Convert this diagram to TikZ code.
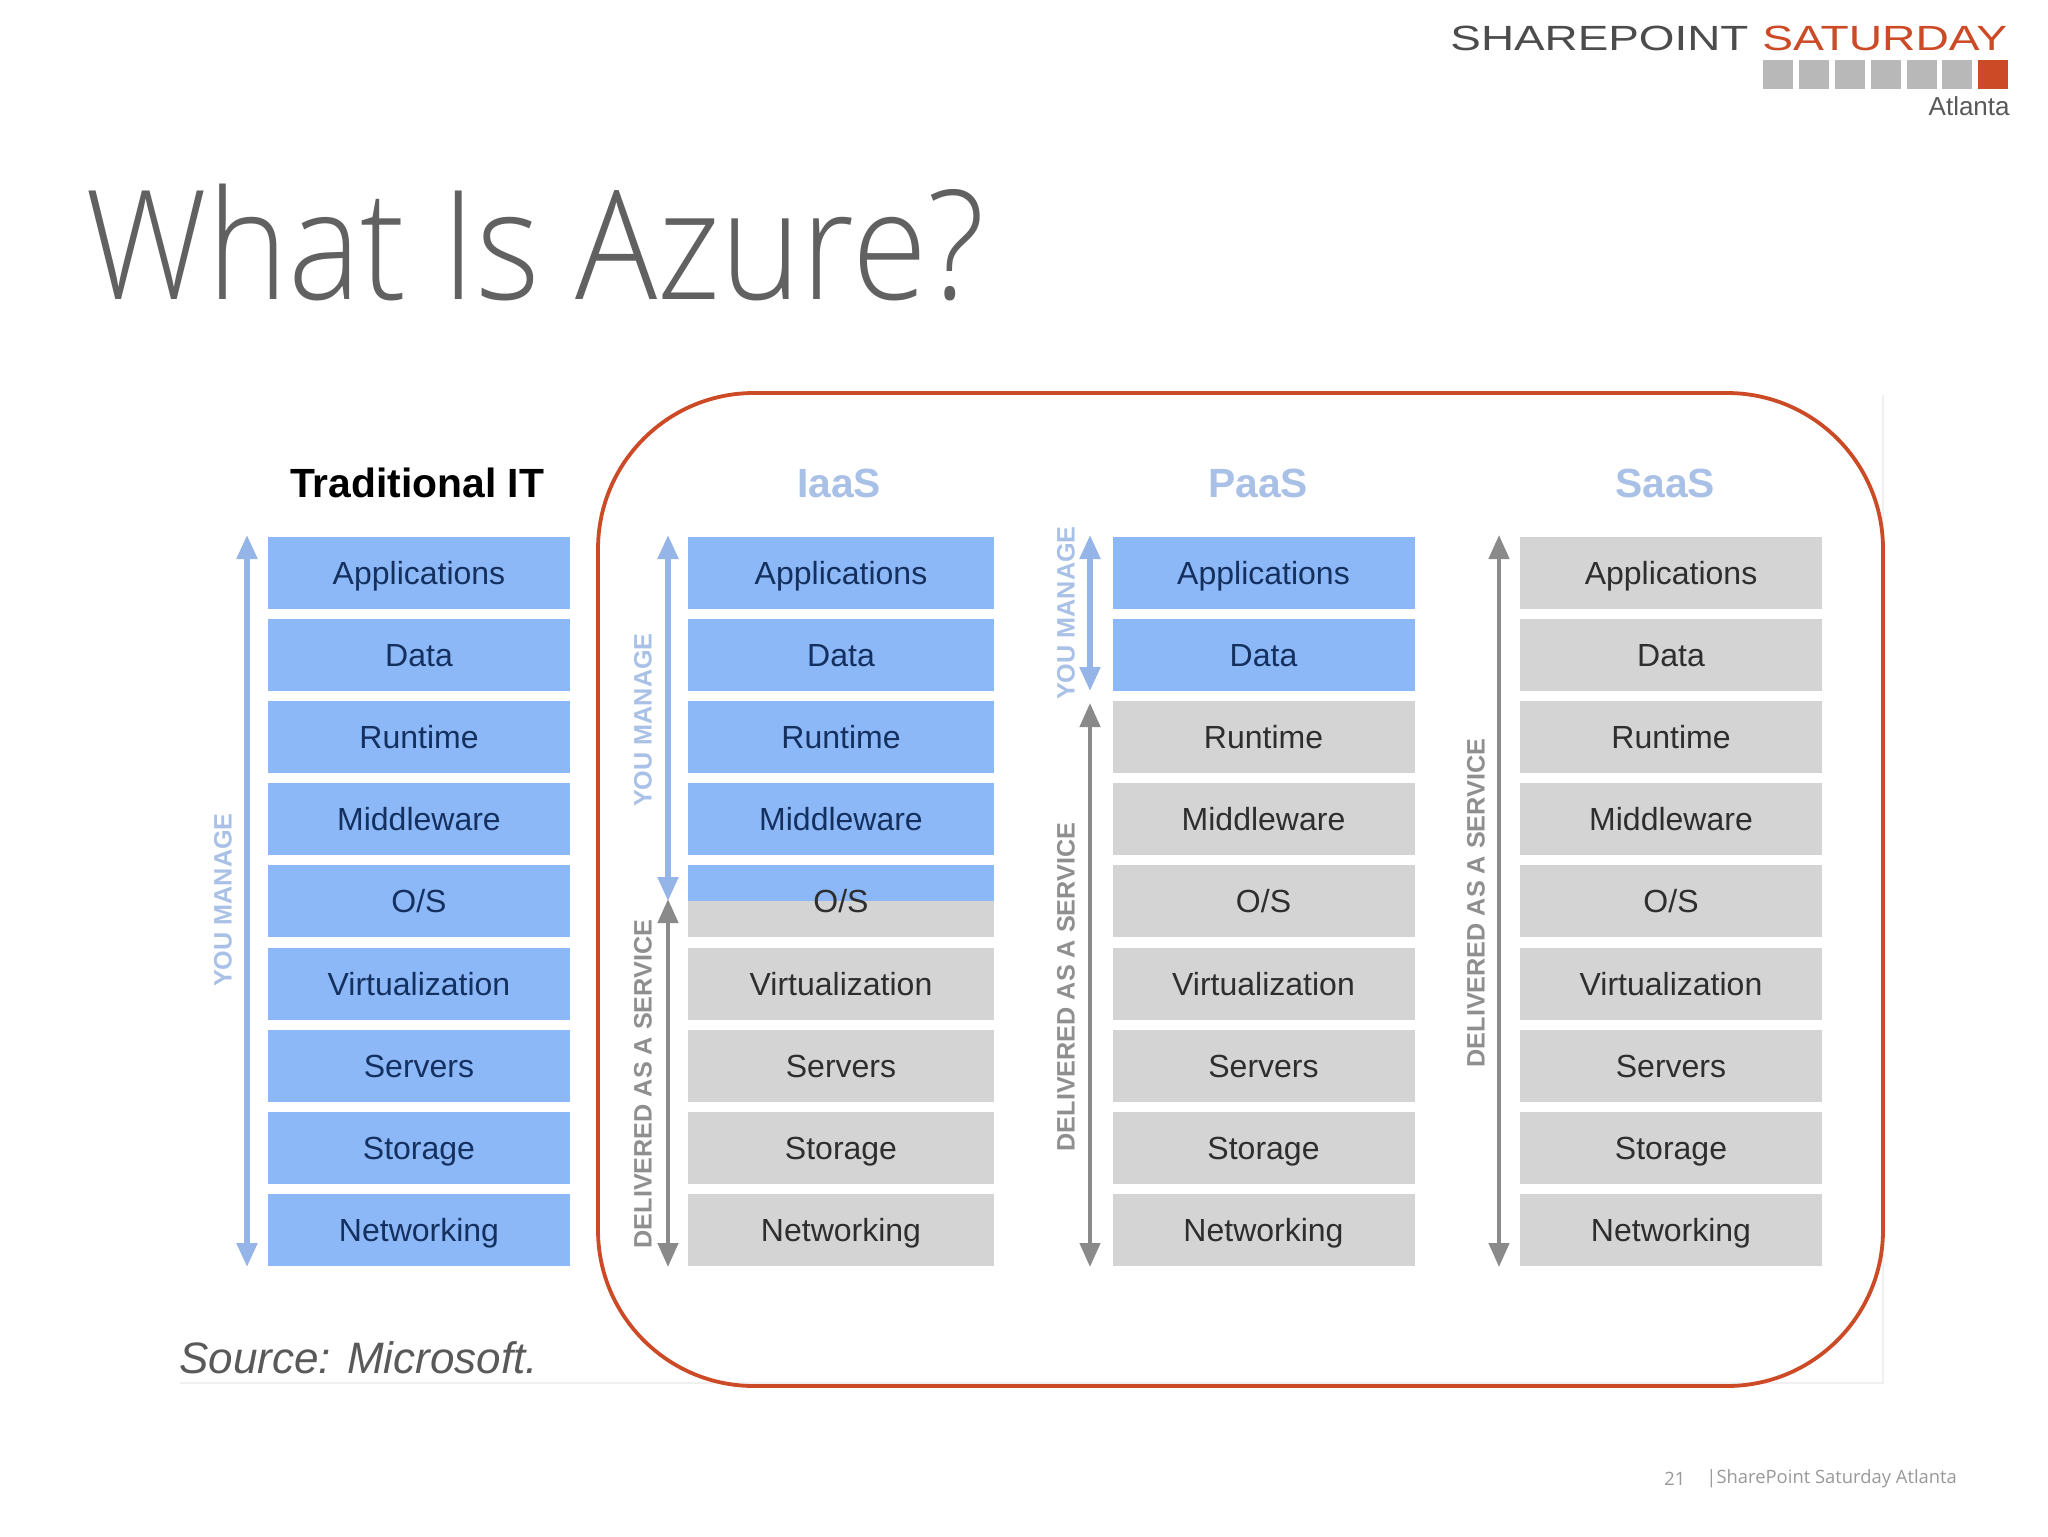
\documentclass[tikz,border=0pt]{standalone}
\usepackage{fontspec}
\usetikzlibrary{arrows.meta}
\setmainfont{Liberation Sans}
\newfontfamily\ttlfont{Open Sans Light}
\newfontfamily\footfont{Open Sans}
\definecolor{bluebox}{HTML}{8DB8F7}
\definecolor{greybox}{HTML}{D4D4D4}
\definecolor{bluetext}{HTML}{14305F}
\definecolor{greytext}{HTML}{2E2E2E}
\definecolor{bluearrow}{HTML}{95B5E8}
\definecolor{greyarrow}{HTML}{8A8A8A}
\definecolor{labblue}{HTML}{A9C1E6}
\definecolor{labgrey}{HTML}{8F8F8F}
\definecolor{framered}{HTML}{CC4A25}
\tikzset{
  x=0.5pt,y=-0.5pt,
  boxbase/.style={minimum width=151pt,minimum height=36pt,inner sep=0pt,text height=11.5pt,text depth=0pt,font=\fontsize{16}{18}\selectfont},
  bluerow/.style={boxbase,fill=bluebox,text=bluetext},
  greyrow/.style={boxbase,fill=greybox,text=greytext},
  splitrow/.style={boxbase,fill=greybox,text=greytext,path picture={\fill[bluebox] (path picture bounding box.north west) rectangle (path picture bounding box.east);}},
  coltitle/.style={font=\fontsize{20.4}{24}\selectfont\bfseries},
  sidelabel/.style={rotate=90,font=\fontsize{12.6}{15}\selectfont\bfseries,inner sep=0pt},
  bluedouble/.style={draw=bluearrow,line width=2.6pt,{Triangle[width=10pt,length=12pt,fill=bluearrow]}-{Triangle[width=10pt,length=12pt,fill=bluearrow]}},
  greydouble/.style={draw=greyarrow,line width=2.2pt,{Triangle[width=10pt,length=12pt,fill=greyarrow]}-{Triangle[width=10pt,length=12pt,fill=greyarrow]}},
}
\begin{document}
\begin{tikzpicture}
\useasboundingbox (0,0) rectangle (2048,1536);
\fill[white] (0,0) rectangle (2048,1536);
% faint slide image edges
\coordinate (edgeA) at (180,1383);
\coordinate (edgeB) at (1883,1383);
\coordinate (edgeC) at (1883,395);
\draw[draw=black!6,line width=0.8pt] (edgeA) -- (edgeB) -- (edgeC);
% logo
\node[anchor=base west,inner sep=0pt,text=black!70] (logoA) at (1450,51) {\fontsize{17.5}{20}\selectfont\scalebox{1.31}[1]{SHAREPOINT}};
\node[anchor=base west,inner sep=0pt,text=framered] (logoB) at (1762,51) {\fontsize{17.5}{20}\selectfont\scalebox{1.32}[1]{SATURDAY}};
\foreach \k in {0,...,5}{
  \node[fill=black!28,minimum width=15pt,minimum height=14.5pt,inner sep=0pt,anchor=north west] (sq\k) at (1763+\k*35.8,60) {};
}
\node[fill=framered,minimum width=15pt,minimum height=14.5pt,inner sep=0pt,anchor=north west] (sq6) at (1978,60) {};
\node[anchor=east,inner sep=0pt,text=black!65,font=\fontsize{13}{15}\selectfont] (atl) at (2010,106) {Atlanta};
% title
\node[anchor=base west,inner sep=0pt,text=black!62,font=\fontsize{76}{90}\selectfont\ttlfont] (title) at (85,299) {\scalebox{0.9}[1]{What Is Azure?}};
% frame
\node[draw=framered,line width=1.9pt,rounded corners=78pt,minimum width=642.5pt,minimum height=496.5pt,inner sep=0pt] (frame) at (1240.5,889.5) {};
% titles
\node[coltitle,text=black] (tTrad) at (417,483) {Traditional IT};
\node[coltitle,text=labblue] (tIaas) at (839,483) {IaaS};
\node[coltitle,text=labblue] (tPaas) at (1258,483) {PaaS};
\node[coltitle,text=labblue] (tSaas) at (1665,483) {SaaS};
% rows
\foreach \t [count=\i from 0] in {Applications,Data,Runtime,Middleware,O/S,Virtualization,Servers,Storage,Networking}{
  \pgfmathsetmacro{\yy}{572.5+\i*82.2}
  \node[bluerow] (t\i) at (419,\yy) {\t};
  \ifnum\i<4
    \node[bluerow,minimum width=153pt] (i\i) at (841,\yy) {\t};
  \else\ifnum\i=4
    \node[splitrow,minimum width=153pt] (i\i) at (841,\yy) {\t};
  \else
    \node[greyrow,minimum width=153pt] (i\i) at (841,\yy) {\t};
  \fi\fi
  \ifnum\i<2
    \node[bluerow] (p\i) at (1263.5,\yy) {\t};
  \else
    \node[greyrow] (p\i) at (1263.5,\yy) {\t};
  \fi
  \node[greyrow] (s\i) at (1671,\yy) {\t};
}
% arrow ends
\coordinate (aT) at (247,535);
\coordinate (aB) at (247,1267);
\coordinate (bT) at (668,535);
\coordinate (bM) at (668,901);
\coordinate (bN) at (668,899);
\coordinate (bB) at (668,1267);
\coordinate (cT) at (1090,535);
\coordinate (cM) at (1090,691);
\coordinate (cN) at (1090,703);
\coordinate (cB) at (1090,1267);
\coordinate (dT) at (1499,535);
\coordinate (dB) at (1499,1267);
\draw[bluedouble] (aT) -- (aB);
\draw[greydouble] (bN) -- (bB);
\draw[bluedouble] (bT) -- (bM);
\draw[bluedouble] (cT) -- (cM);
\draw[greydouble] (cN) -- (cB);
\draw[greydouble] (dT) -- (dB);
% side labels
\node[sidelabel,text=labblue] (l1) at (223,900) {YOU MANAGE};
\node[sidelabel,text=labblue] (l2) at (643,720) {YOU MANAGE};
\node[sidelabel,text=labgrey] (l3) at (643,1084) {DELIVERED AS A SERVICE};
\node[sidelabel,text=labblue] (l4) at (1066,613) {YOU MANAGE};
\node[sidelabel,text=labgrey] (l5) at (1066,987) {DELIVERED AS A SERVICE};
\node[sidelabel,text=labgrey] (l6) at (1476,903) {DELIVERED AS A SERVICE};
% source
\node[anchor=west,inner sep=0pt,text=black!65,font=\fontsize{22}{26}\selectfont\itshape] (src) at (179,1358) {Source: Microsoft.};
% footer
\node[anchor=west,inner sep=0pt,text=black!40,font=\fontsize{9.2}{12}\selectfont\footfont] (pg) at (1664,1479) {21};
\node[anchor=west,inner sep=0pt,text=black!40,font=\fontsize{9.2}{12}\selectfont\footfont] (ft) at (1706,1479) {|SharePoint Saturday Atlanta};
\end{tikzpicture}
\end{document}
